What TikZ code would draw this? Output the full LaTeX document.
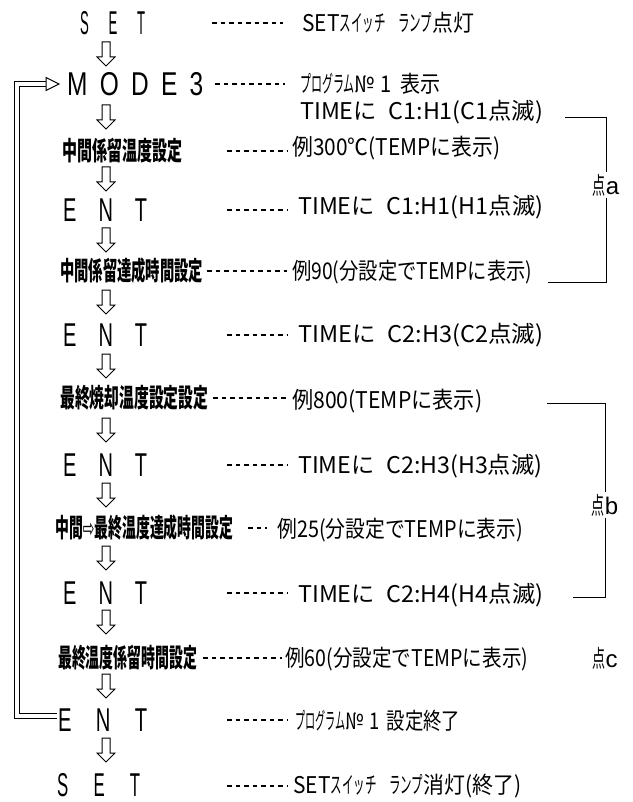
\documentclass[tikz,border=0pt]{standalone}
\usepackage{fontspec}
\usepackage{graphicx}
\newfontfamily\jp{Noto Sans CJK JP}
\newfontfamily\lat{Liberation Sans}
\newfontfamily\dv{DejaVu Sans}
\newcommand{\fw}[2]{\resizebox{#1pt}{\height}{#2}}
\newcommand{\hk}[1]{\scalebox{0.55}[1]{#1}}
\tikzset{
  lbl/.style={anchor=west, inner sep=0pt, font=\jp\bfseries\fontsize{26}{26}\selectfont},
  desc/.style={anchor=west, inner sep=0pt, font=\jp\fontsize{23}{23}\selectfont},
  key/.style={anchor=west, inner sep=0pt, font=\lat\fontsize{33}{33}\selectfont},
  ptlbl/.style={inner sep=1.5pt, font=\jp\fontsize{24}{24}\selectfont},
  leader/.style={dash pattern=on 4.5pt off 4pt, line width=1.2pt},
  flow/.style={line width=1pt, fill=white, line join=miter},
  brk/.style={line width=1pt},
  loopline/.style={double, double distance=3.5pt, line width=1pt},
  dnarrow/.pic={\draw[flow] (-4,-12) -- (4,-12) -- (4,3) -- (9,3) -- (0,12) -- (-9,3) -- (-4,3) -- cycle;}
}
\begin{document}
\begin{tikzpicture}[x=1pt,y=-1pt]
\useasboundingbox (0,0) rectangle (632,802);
\fill[white] (0,0) rectangle (632,802);

% left column
\node[key] (k0) at (80,23) {\fw{65}{S\hspace{1.5em}E\hspace{1.5em}T}};
\node[key] (k1) at (67,84) {\fw{136}{M\hspace{.5em}O\hspace{.5em}D\hspace{.5em}E\hspace{.5em}3}};
\node[lbl] (k2) at (62,151) {\fw{120}{中間係留温度設定}};
\node[key] (k3) at (63,210) {\fw{84}{E\hspace{1.1em}N\hspace{1.1em}T}};
\node[lbl] (k4) at (60,271) {\fw{143}{中間係留達成時間設定}};
\node[key] (k5) at (63,335) {\fw{84}{E\hspace{1.1em}N\hspace{1.1em}T}};
\node[lbl] (k6) at (60,398) {\fw{148}{最終焼却温度設定設定}};
\node[key] (k7) at (63,465) {\fw{84}{E\hspace{1.1em}N\hspace{1.1em}T}};
\node[lbl] (k8) at (55,528) {\fw{178}{中間{\dv\mdseries ⇨}最終温度達成時間設定}};
\node[key] (k9) at (63,593) {\fw{84}{E\hspace{1.1em}N\hspace{1.1em}T}};
\node[lbl] (k10) at (58,658) {\fw{139}{最終温度係留時間設定}};
\node[key] (k11) at (58,720) {\fw{89}{E\hspace{1.2em}N\hspace{1.2em}T}};
\node[key] (k12) at (57,785) {\fw{83}{S\hspace{1.5em}E\hspace{1.5em}T}};

% flow arrows
\foreach \yy [count=\i] in {54,117,179,240,302,366,430,495,558,622,686,750}
  \pic (a\i) at (106,\yy) {dnarrow};

% loop back
\draw[loopline] (57,716) -- (17,716) -- (17,84) -- (46,84);
\draw[flow] (46,77.5) -- (59,84) -- (46,90.5) -- cycle;

% right column
\node[desc] (d0) at (302,23) {\fw{172}{SET\hk{スイッチ}\hspace{0.6em}\hk{ランプ}点灯}};
\node[desc] (d1) at (300,84) {\fw{140}{\hk{プログラム}№\hspace{0.3em}1\hspace{0.4em}表示}};
\node[desc] (dT) at (300,112) {\fw{243}{TIMEに\hspace{0.5em}C1:H1(C1点滅)}};
\node[desc] (d2) at (292,148) {\fw{208}{例300℃(TEMPに表示)}};
\node[desc] (d3) at (298,207) {\fw{245}{TIMEに\hspace{0.5em}C1:H1(H1点滅)}};
\node[desc] (d4) at (292,272) {\fw{240}{例90(分設定でTEMPに表示)}};
\node[desc] (d5) at (298,335) {\fw{245}{TIMEに\hspace{0.5em}C2:H3(C2点滅)}};
\node[desc] (d6) at (292,401) {\fw{190}{例800(TEMPに表示)}};
\node[desc] (d7) at (298,466) {\fw{244}{TIMEに\hspace{0.5em}C2:H3(H3点滅)}};
\node[desc] (d8) at (277,530) {\fw{246}{例25(分設定でTEMPに表示)}};
\node[desc] (d9) at (298,595) {\fw{245}{TIMEに\hspace{0.5em}C2:H4(H4点滅)}};
\node[desc] (d10) at (285,659) {\fw{243}{例60(分設定でTEMPに表示)}};
\node[desc] (d11) at (295,721) {\fw{165}{\hk{プログラム}№\hspace{0.3em}1\hspace{0.4em}設定終了}};
\node[desc] (d12) at (293,786) {\fw{228}{SET\hk{スイッチ}\hspace{0.6em}\hk{ランプ}消灯(終了)}};

% leaders
\draw[leader] (212,23) -- (283,23);
\draw[leader] (215,84) -- (285,84);
\draw[leader] (227,151) -- (287,151);
\draw[leader] (227,210) -- (287,210);
\draw[leader] (207,271) -- (287,271);
\draw[leader] (227,335) -- (287,335);
\draw[leader] (213,398) -- (287,398);
\draw[leader] (227,465) -- (287,465);
\draw[leader] (248,528) -- (267,528);
\draw[leader] (227,593) -- (287,593);
\draw[leader] (203,658) -- (282,658);
\draw[leader] (227,720) -- (287,720);
\draw[leader] (227,786) -- (287,786);

% brackets
\node[ptlbl] (pa) at (606,185) {\resizebox{13pt}{\height}{点}{\lat a}};
\draw[brk] (565,118) -| (pa.north);
\draw[brk] (pa.south) |- (548,282);
\node[ptlbl] (pb) at (605,505) {\resizebox{13pt}{\height}{点}{\lat b}};
\draw[brk] (547,403) -| (pb.north);
\draw[brk] (pb.south) |- (573,597);
\node[ptlbl] (pc) at (605,658) {\resizebox{13pt}{\height}{点}{\lat c}};
\end{tikzpicture}
\end{document}
